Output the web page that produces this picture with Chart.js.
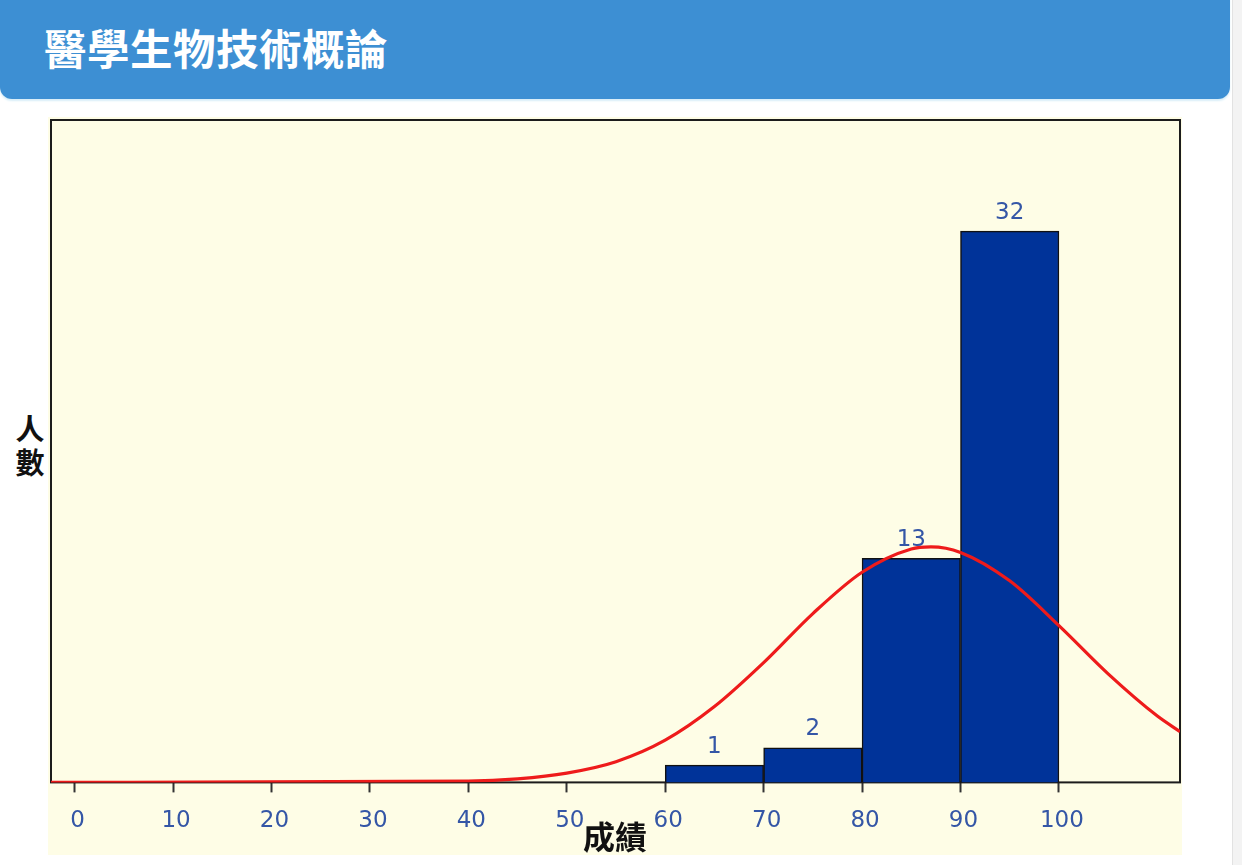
<!DOCTYPE html>
<html>
<head>
<meta charset="utf-8">
<script src="https://cdn.jsdelivr.net/npm/chart.js@4"></script>
<style>
  body { margin: 0; background: #fff; width: 1242px; height: 865px; overflow: hidden; position: relative; font-family: "Noto Sans CJK TC", "Noto Sans", sans-serif; }
  #header { position: absolute; left: 0; top: -12px; width: 1230px; height: 111px; background: #3d8fd3; border-radius: 12px; box-shadow: 0 2px 2px #d8eef8; }
  #header h1 { margin: 0; position: absolute; left: 44px; top: 34px; color: #fff; font-size: 42.5px; font-weight: 700; line-height: 50px; letter-spacing: 0.5px; }
  #scrollbar { position: absolute; left: 1232px; top: 0; width: 10px; height: 865px; background: #f3f3f3; border-left: 1px solid #e2e2e2; }
  #chartBox { position: absolute; left: 48px; top: 117px; width: 1134px; height: 738px; background: #fefde6; }
  #yTitle { position: absolute; left: 14px; top: 410px; width: 32px; font-size: 29px; font-weight: 700; line-height: 34px; text-align: center; color: #111; }
  #xTitle { position: absolute; left: 565px; top: 815px; width: 100px; font-size: 32px; font-weight: 700; line-height: 40px; text-align: center; color: #111; }
</style>
</head>
<body>
<div id="header"><h1>醫學生物技術概論</h1></div>
<div id="scrollbar"></div>
<div id="chartBox"><canvas id="histChart"></canvas></div>
<div id="yTitle">人<br>數</div>
<div id="xTitle">成績</div>
<script>
// histogram bins (center of each 10-point bin) and head counts
const binCenters = [65, 75, 85, 95];
const counts = [1, 2, 13, 32];

// red normal curve
const curveX = [-2.4, 40, 45, 50, 55, 60, 65, 70, 75, 80, 85, 87, 90, 95, 100, 105, 110, 112.3];
const curveY = [0, 0.08, 0.21, 0.54, 1.2, 2.45, 4.4, 6.95, 9.8, 12.2, 13.55, 13.67, 13.35, 11.7, 9.1, 6.3, 3.85, 2.95];

const xTicks = [0, 10, 20, 30, 40, 50, 60, 70, 80, 90, 100];

const labelFamily = '"DejaVu Sans", sans-serif';
const labelColor = '#3456a6';

// frame around the plot area (drawn under the datasets)
const framePlugin = {
  id: 'frame',
  beforeDatasetsDraw(chart) {
    const { ctx, chartArea } = chart;
    ctx.save();
    ctx.strokeStyle = '#1c1c1c';
    ctx.lineWidth = 2;
    ctx.strokeRect(chartArea.left, chartArea.top, chartArea.right - chartArea.left, chartArea.bottom - chartArea.top);
    ctx.restore();
  }
};

// count labels above the bars
const barLabels = {
  id: 'barLabels',
  afterDatasetsDraw(chart) {
    const { ctx } = chart;
    const meta = chart.getDatasetMeta(1);
    ctx.save();
    ctx.font = '23px ' + labelFamily;
    ctx.fillStyle = labelColor;
    ctx.textAlign = 'center';
    ctx.textBaseline = 'bottom';
    meta.data.forEach((bar, i) => {
      ctx.fillText(String(counts[i]), bar.x, bar.y - 7);
    });
    ctx.restore();
  }
};

const ctx = document.getElementById('histChart').getContext('2d');
const histChart = new Chart(ctx, {
  data: {
    datasets: [{
      type: 'line',
      order: 0,
      data: curveX.map((x, i) => ({ x: x, y: curveY[i] })),
      borderColor: '#ee1b1b',
      borderWidth: 3.2,
      pointRadius: 0,
      cubicInterpolationMode: 'monotone',
      fill: false,
    }, {
      type: 'bar',
      order: 1,
      data: binCenters.map((x, i) => ({ x: x, y: counts[i] })),
      backgroundColor: '#003399',
      borderColor: '#111',
      borderWidth: 1.5,
      barPercentage: 1,
      categoryPercentage: 1,
    }],
  },
  options: {
    responsive: true,
    maintainAspectRatio: false,
    animation: false,
    layout: { padding: { left: 3, top: 3, right: 2, bottom: 5 } },
    plugins: { legend: { display: false }, tooltip: { enabled: false } },
    scales: {
      x: {
        type: 'linear',
        offset: false,
        min: -2.4,
        max: 112.3,
        afterBuildTicks: scale => { scale.ticks = xTicks.map(v => ({ value: v })); },
        grid: { offset: false, drawOnChartArea: false, drawTicks: true, tickLength: 10, tickWidth: 2, tickColor: '#333' },
        border: { display: false },
        ticks: {
          padding: 15,
          labelOffset: 3,
          color: labelColor,
          font: { family: labelFamily, size: 23 },
          maxRotation: 0,
          autoSkip: false,
        },
      },
      y: {
        display: false,
        min: 0,
        max: 38.45,
      },
    },
  },
  plugins: [framePlugin, barLabels],
});
</script>
</body>
</html>
